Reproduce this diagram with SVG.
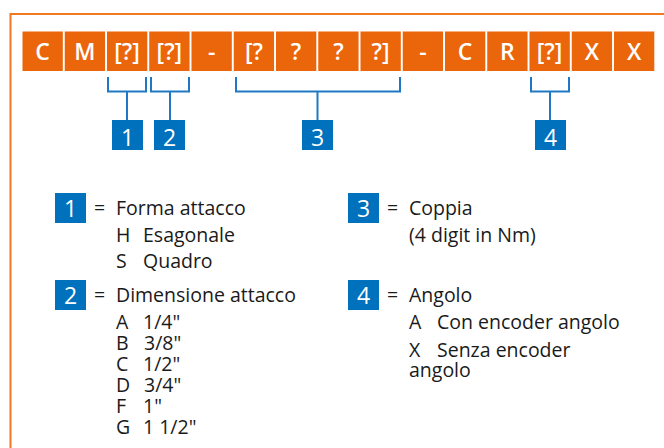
<svg xmlns="http://www.w3.org/2000/svg" width="664" height="448" viewBox="0 0 664 448">
<style>
.cell{fill:#EB650B}
.ct{fill:#fff;font-family:"Open Sans","Noto Sans",sans-serif;font-size:23px;font-weight:600;text-anchor:middle}
.br{fill:none;stroke:#1F78C1;stroke-width:2}
.nb{fill:#0071BD}
.nt{fill:#fff;font-family:"Open Sans","Noto Sans",sans-serif;font-size:23px;text-anchor:middle}
.lt{fill:#1a1a1a;font-family:"Open Sans","Noto Sans",sans-serif;font-size:19.5px}
</style>
<rect x="0" y="0" width="664" height="448" fill="#fff"/>
<rect x="10.5" y="14" width="700" height="500" fill="none" stroke="#F07822" stroke-width="2"/>
<g id="code">
<rect class="cell" x="22.5" y="31.5" width="40.3" height="39.5"/><text class="ct" x="42.6" y="59.5">C</text>
<rect class="cell" x="64.75" y="31.5" width="40.3" height="39.5"/><text class="ct" x="84.9" y="59.5">M</text>
<rect class="cell" x="107" y="31.5" width="40.3" height="39.5"/><text class="ct" x="127.1" y="59.5">[?]</text>
<rect class="cell" x="149.25" y="31.5" width="40.3" height="39.5"/><text class="ct" x="169.4" y="59.5">[?]</text>
<rect class="cell" x="191.5" y="31.5" width="40.3" height="39.5"/><text class="ct" x="211.6" y="59.5">-</text>
<rect class="cell" x="233.75" y="31.5" width="40.3" height="39.5"/><text class="ct" x="253.9" y="59.5">[?</text>
<rect class="cell" x="276" y="31.5" width="40.3" height="39.5"/><text class="ct" x="296.1" y="59.5">?</text>
<rect class="cell" x="318.25" y="31.5" width="40.3" height="39.5"/><text class="ct" x="338.4" y="59.5">?</text>
<rect class="cell" x="360.5" y="31.5" width="40.3" height="39.5"/><text class="ct" x="380.6" y="59.5">?]</text>
<rect class="cell" x="402.75" y="31.5" width="40.3" height="39.5"/><text class="ct" x="422.9" y="59.5">-</text>
<rect class="cell" x="445" y="31.5" width="40.3" height="39.5"/><text class="ct" x="465.1" y="59.5">C</text>
<rect class="cell" x="487.25" y="31.5" width="40.3" height="39.5"/><text class="ct" x="507.4" y="59.5">R</text>
<rect class="cell" x="529.5" y="31.5" width="40.3" height="39.5"/><text class="ct" x="549.6" y="59.5">[?]</text>
<rect class="cell" x="571.75" y="31.5" width="40.3" height="39.5"/><text class="ct" x="591.9" y="59.5">X</text>
<rect class="cell" x="614" y="31.5" width="40.3" height="39.5"/><text class="ct" x="634.1" y="59.5">X</text>
</g>
<g id="connectors">
<path class="br" d="M108,77V91.5H146V77M127,91.5V120"/>
<path class="br" d="M151,77V91.5H189V77M170,91.5V120"/>
<path class="br" d="M236,77V91.5H400V77M317.5,91.5V120"/>
<path class="br" d="M531,77V91.5H569V77M550,91.5V120"/>
</g>
<g id="n1"><rect class="nb" x="112" y="120" width="31" height="30"/><text class="nt" x="127.5" y="145.5">1</text></g>
<g id="n2"><rect class="nb" x="154" y="120" width="31" height="30"/><text class="nt" x="169.5" y="145.5">2</text></g>
<g id="n3"><rect class="nb" x="302" y="120" width="31" height="30"/><text class="nt" x="317.5" y="145.5">3</text></g>
<g id="n4"><rect class="nb" x="535" y="120" width="31" height="30"/><text class="nt" x="550.5" y="145.5">4</text></g>
<g id="legend1">
<rect class="nb" x="55" y="193" width="31" height="30"/><text class="nt" x="70.5" y="216.5">1</text>
<text class="lt" x="94" y="215">=</text>
<text class="lt" x="116" y="215">Forma attacco</text>
<text class="lt" x="116" y="242">H</text><text class="lt" x="143" y="242">Esagonale</text>
<text class="lt" x="116" y="268">S</text><text class="lt" x="143" y="268">Quadro</text>
</g>
<g id="legend2">
<rect class="nb" x="55" y="280" width="31" height="30"/><text class="nt" x="70.5" y="303.5">2</text>
<text class="lt" x="94" y="302">=</text>
<text class="lt" x="116" y="302">Dimensione attacco</text>
<text class="lt" x="116" y="329">A</text><text class="lt" x="143" y="329">1/4"</text>
<text class="lt" x="116" y="350">B</text><text class="lt" x="144" y="350">3/8"</text>
<text class="lt" x="116" y="371">C</text><text class="lt" x="143" y="371">1/2"</text>
<text class="lt" x="116" y="392">D</text><text class="lt" x="144" y="392">3/4"</text>
<text class="lt" x="116" y="413">F</text><text class="lt" x="143" y="413">1"</text>
<text class="lt" x="116" y="434">G</text><text class="lt" x="143" y="434">1 1/2"</text>
</g>
<g id="legend3">
<rect class="nb" x="348" y="193" width="31" height="30"/><text class="nt" x="363.5" y="216.5">3</text>
<text class="lt" x="387" y="215">=</text>
<text class="lt" x="409" y="215">Coppia</text>
<text class="lt" x="409" y="242">(4 digit in Nm)</text>
</g>
<g id="legend4">
<rect class="nb" x="348" y="280" width="31" height="30"/><text class="nt" x="363.5" y="303.5">4</text>
<text class="lt" x="387" y="302">=</text>
<text class="lt" x="409" y="302">Angolo</text>
<text class="lt" x="409" y="329">A</text><text class="lt" x="437" y="329">Con encoder angolo</text>
<text class="lt" x="409" y="357">X</text><text class="lt" x="437" y="357">Senza encoder</text>
<text class="lt" x="409" y="377">angolo</text>
</g>
</svg>
